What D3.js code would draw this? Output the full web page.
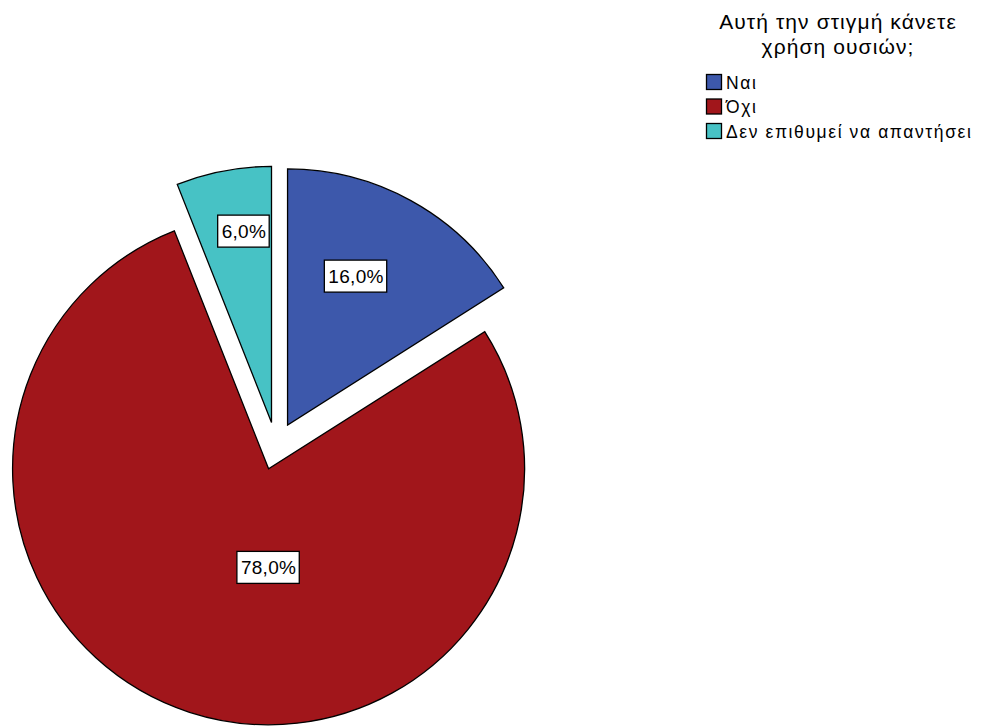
<!DOCTYPE html>
<html><head><meta charset="utf-8">
<script src="https://cdn.jsdelivr.net/npm/d3@7"></script>
<style>body{margin:0;background:#fff}svg{display:block}</style>
</head><body>
<script>
const categories = ["Ναι", "Όχι", "Δεν επιθυμεί να απαντήσει"];
const values = [16.0, 78.0, 6.0];
const colors = ["#3D58AB", "#A1161B", "#47C2C5"];
const title = ["Αυτή την στιγμή κάνετε", "χρήση ουσιών;"];

const W = 986, H = 727;
const cx = 276, cy = 446, R = 256, explode = 24;
// label placement (angle in degrees from 12 o'clock, fraction of radius from slice tip)
const labelPos = [[24.7, 0.64], [180, 0.385], [-8.2, 0.755]];

const svg = d3.select("body").append("svg").attr("width", W).attr("height", H);
const pie = d3.pie().sort(null).value(d => d).startAngle(0).endAngle(2 * Math.PI);
const arcs = pie(values);
const arc = d3.arc().innerRadius(0).outerRadius(R);
const fmt = v => d3.format(".1f")(v).replace(".", ",") + "%";

const g = svg.append("g");
arcs.forEach((a, i) => {
  const mid = (a.startAngle + a.endAngle) / 2;
  const ox = cx + explode * Math.sin(mid), oy = cy - explode * Math.cos(mid);
  const sg = g.append("g").attr("transform", `translate(${ox},${oy})`);
  sg.append("path").attr("d", arc(a)).attr("fill", colors[i])
    .attr("stroke", "#000").attr("stroke-width", 1.3).attr("stroke-linejoin", "miter");
});
arcs.forEach((a, i) => {
  const mid = (a.startAngle + a.endAngle) / 2;
  const ox = cx + explode * Math.sin(mid), oy = cy - explode * Math.cos(mid);
  const ang = labelPos[i][0] * Math.PI / 180, rr = labelPos[i][1] * R;
  const lx = ox + rr * Math.sin(ang), ly = oy - rr * Math.cos(ang);
  const t = svg.append("text").attr("x", lx).attr("y", ly + 7)
    .attr("text-anchor", "middle").attr("font-family", "Liberation Sans, Arial, sans-serif")
    .attr("font-size", 19).attr("letter-spacing", 0.3).text(fmt(values[i]));
  const bb = t.node().getBBox();
  svg.insert("rect", () => t.node()).attr("x", bb.x - 4).attr("y", ly - 16)
    .attr("width", bb.width + 7).attr("height", 32)
    .attr("fill", "#fff").attr("stroke", "#000").attr("stroke-width", 1.3);
});

// legend
const lg = svg.append("g").attr("font-family", "Liberation Sans, Arial, sans-serif");
title.forEach((t, i) => {
  lg.append("text").attr("x", 838).attr("y", 29 + i * 25).attr("text-anchor", "middle")
    .attr("font-size", 21).attr("letter-spacing", 1.1).attr("fill", "#000").text(t);
});
categories.forEach((c, i) => {
  const y = 74 + i * 24.5;
  lg.append("rect").attr("x", 706.5).attr("y", y + 0.5).attr("width", 15).attr("height", 15)
    .attr("fill", colors[i]).attr("stroke", "#000").attr("stroke-width", 1.3);
  lg.append("text").attr("x", 726).attr("y", y + 14.5).attr("font-size", 17.5)
    .attr("letter-spacing", 1.6).attr("fill", "#000").text(c);
});
</script>
</body></html>
